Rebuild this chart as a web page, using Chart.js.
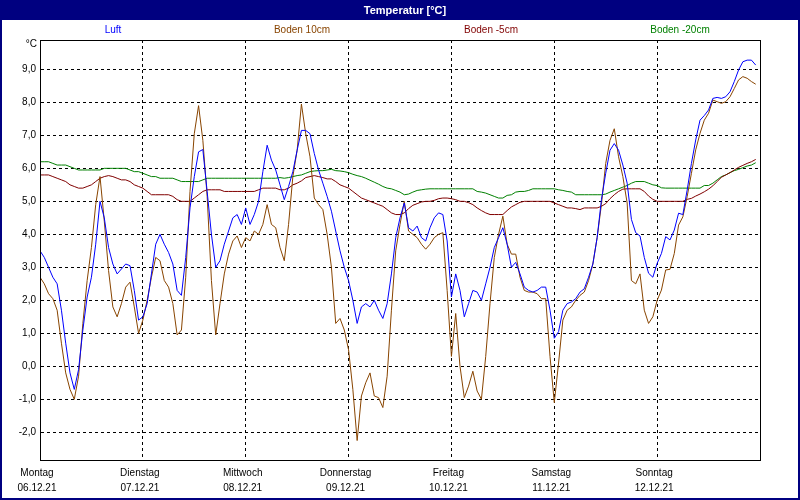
<!DOCTYPE html>
<html>
<head>
<meta charset="utf-8">
<script src="https://cdn.jsdelivr.net/npm/chart.js@4"></script>
<style>
  html, body { margin: 0; padding: 0; background: #fff; }
  #wrap { width: 800px; height: 500px; }
</style>
</head>
<body>
<div id="wrap"><canvas id="temperatur"></canvas></div>
<script>
const chartTitle = 'Temperatur [°C]'
const seriesNames = ['Luft', 'Boden 10cm', 'Boden -5cm', 'Boden -20cm']
const seriesColors = ['#0000ff', '#884400', '#800000', '#008000']
const dayNames = ['Montag', 'Dienstag', 'Mittwoch', 'Donnerstag', 'Freitag', 'Samstag', 'Sonntag']
const dayDates = ['06.12.21', '07.12.21', '08.12.21', '09.12.21', '10.12.21', '11.12.21', '12.12.21']
const dayTicks = [0, 24, 48, 72, 96, 120, 144]   // hours since Monday 0:00
const yTicks = [-2, -1, 0, 1, 2, 3, 4, 5, 6, 7, 8, 9]

// hourly readings, Monday 0:00 .. Sunday 23:00
const luft = [
  3.5, 3.3, 3.0, 2.7, 2.5, 1.7, 0.7, -0.2, -0.7, -0.1, 1.1, 2.1, 2.7, 3.7, 5.0, 4.5, 3.6, 3.1, 2.8, 2.95, 3.1, 3.05, 2.3, 1.4,
  1.5, 1.9, 2.8, 3.7, 4.0, 3.7, 3.45, 3.1, 2.3, 2.15, 3.3, 4.8, 5.75, 6.5, 6.57, 5.3, 4.0, 3.0, 3.2, 3.7, 4.1, 4.5, 4.6, 4.3,
  4.8, 4.3, 4.6, 5.0, 5.9, 6.7, 6.25, 5.95, 5.5, 5.05, 5.45, 5.9, 6.55, 7.15, 7.15, 7.05, 6.45, 5.95, 5.55, 5.15, 4.7, 4.1, 3.5, 3.0,
  2.6, 2.0, 1.3, 1.8, 1.9, 1.8, 2.0, 1.7, 1.45, 1.9, 2.8, 3.9, 4.5, 4.95, 4.2, 4.1, 4.25, 3.9, 3.8, 4.2, 4.5, 4.65, 4.6, 3.8,
  2.1, 2.8, 2.3, 1.5, 1.9, 2.3, 2.25, 2.0, 2.5, 3.0, 3.6, 3.9, 4.2, 3.7, 3.0, 3.15, 2.8, 2.4, 2.3, 2.25, 2.3, 2.4, 2.4, 1.7,
  0.85, 1.05, 1.7, 1.9, 1.95, 2.05, 2.25, 2.35, 2.7, 3.1, 3.9, 5.05, 5.85, 6.55, 6.75, 6.55, 6.1, 5.55, 4.45, 4.05, 3.95, 3.3, 2.82, 2.7,
  3.12, 3.42, 3.93, 3.83, 4.13, 4.64, 4.6, 5.34, 6.15, 6.86, 7.46, 7.6, 7.77, 8.12, 8.15, 8.12, 8.17, 8.32, 8.63, 8.98, 9.23, 9.28, 9.28, 9.13
]
const boden10 = [
  2.7, 2.5, 2.2, 2.05, 1.7, 0.7, -0.2, -0.7, -1.0, -0.3, 1.3, 2.6, 3.6, 4.9, 5.75, 4.4, 2.9, 1.8, 1.5, 1.9, 2.4, 2.55, 1.8, 1.0,
  1.4, 2.0, 2.7, 3.3, 3.2, 2.6, 2.4, 1.9, 0.95, 1.1, 2.7, 5.3, 7.05, 7.9, 6.85, 5.15, 2.6, 0.95, 1.9, 2.8, 3.4, 3.8, 3.95, 3.6,
  3.9, 3.8, 4.1, 4.0, 4.3, 4.9, 4.3, 4.2, 3.6, 3.2, 4.3, 5.75, 6.55, 7.95, 7.05, 6.35, 5.1, 4.9, 4.75, 4.0, 3.0, 1.3, 1.45, 1.1,
  0.5, -0.7, -2.25, -0.9, -0.5, -0.2, -0.9, -0.95, -1.25, -0.3, 1.7, 3.5, 4.3, 5.0, 4.1, 4.0, 3.9, 3.7, 3.55, 3.7, 3.9, 4.0, 4.05, 2.3,
  0.3, 1.6, 0.0, -0.95, -0.6, -0.15, -0.75, -1.0, 0.3, 1.9, 3.3, 4.0, 4.55, 3.7, 3.4, 3.4, 2.7, 2.3, 2.25, 2.25, 2.2, 2.05, 2.05, 0.3,
  -1.1, 0.1, 1.4, 1.7, 1.8, 2.0, 2.15, 2.25, 2.6, 3.1, 3.9, 4.9, 6.15, 6.85, 7.2, 6.35, 5.75, 4.95, 2.6, 2.5, 2.8, 1.7, 1.3, 1.5,
  2.0, 2.31, 2.92, 2.94, 3.42, 4.28, 4.53, 5.14, 5.85, 6.56, 7.06, 7.46, 7.67, 8.07, 8.02, 7.97, 8.02, 8.17, 8.42, 8.68, 8.78, 8.73, 8.63, 8.55
]
const boden5 = [
  5.8, 5.8, 5.8, 5.75, 5.7, 5.65, 5.6, 5.5, 5.45, 5.4, 5.4, 5.45, 5.5, 5.6, 5.7, 5.75, 5.78, 5.75, 5.7, 5.65, 5.65, 5.6, 5.5, 5.45,
  5.4, 5.3, 5.2, 5.2, 5.2, 5.2, 5.2, 5.15, 5.05, 5.0, 5.0, 5.0, 5.1, 5.2, 5.3, 5.35, 5.35, 5.35, 5.35, 5.3, 5.3, 5.3, 5.3, 5.3,
  5.3, 5.3, 5.3, 5.35, 5.4, 5.4, 5.4, 5.4, 5.35, 5.35, 5.4, 5.5, 5.55, 5.62, 5.72, 5.75, 5.78, 5.75, 5.72, 5.68, 5.68, 5.6, 5.5, 5.45,
  5.4, 5.3, 5.2, 5.1, 5.05, 5.0, 4.95, 4.9, 4.85, 4.75, 4.65, 4.6, 4.6, 4.65, 4.78, 4.88, 4.93, 4.98, 5.0, 5.0, 5.03, 5.08, 5.1, 5.1,
  5.08, 5.05, 5.0, 5.0, 4.96, 4.9, 4.8, 4.72, 4.65, 4.6, 4.6, 4.6, 4.6, 4.72, 4.83, 4.9, 4.97, 5.0, 5.0, 5.0, 5.0, 5.0, 5.0, 5.0,
  4.95, 4.9, 4.85, 4.8, 4.8, 4.78, 4.75, 4.8, 4.8, 4.8, 4.8, 4.85, 4.93, 5.08, 5.2, 5.3, 5.37, 5.38, 5.38, 5.38, 5.38, 5.3, 5.16, 5.06,
  5.0, 5.0, 5.0, 5.0, 5.0, 5.0, 5.0, 5.06, 5.09, 5.16, 5.22, 5.29, 5.37, 5.47, 5.6, 5.73, 5.8, 5.87, 5.95, 6.03, 6.09, 6.15, 6.2, 6.27
]
const boden20 = [
  6.2, 6.2, 6.2, 6.15, 6.1, 6.1, 6.1, 6.05, 6.0, 5.95, 5.95, 5.95, 5.95, 5.95, 5.95, 6.0, 6.0, 6.0, 6.0, 6.0, 6.0, 5.95, 5.9, 5.9,
  5.85, 5.8, 5.75, 5.75, 5.7, 5.7, 5.7, 5.7, 5.65, 5.6, 5.6, 5.6, 5.6, 5.6, 5.65, 5.7, 5.7, 5.7, 5.7, 5.7, 5.7, 5.7, 5.7, 5.7,
  5.7, 5.7, 5.7, 5.7, 5.7, 5.7, 5.7, 5.7, 5.72, 5.7, 5.72, 5.75, 5.78, 5.8, 5.85, 5.9, 5.92, 5.93, 5.93, 5.95, 5.97, 5.93, 5.92, 5.9,
  5.87, 5.82, 5.78, 5.75, 5.7, 5.64, 5.58, 5.52, 5.45, 5.4, 5.38, 5.33, 5.28, 5.2, 5.22, 5.28, 5.33, 5.35, 5.37, 5.38, 5.38, 5.38, 5.38, 5.38,
  5.38, 5.38, 5.38, 5.38, 5.38, 5.38, 5.3, 5.28, 5.25, 5.2, 5.15, 5.1, 5.1, 5.18, 5.2, 5.28, 5.3, 5.3, 5.33, 5.38, 5.38, 5.38, 5.38, 5.38,
  5.38, 5.35, 5.33, 5.3, 5.28, 5.2, 5.2, 5.2, 5.2, 5.2, 5.2, 5.2, 5.22, 5.28, 5.33, 5.38, 5.43, 5.48, 5.55, 5.6, 5.6, 5.6, 5.55, 5.5,
  5.48, 5.41, 5.4, 5.4, 5.4, 5.4, 5.4, 5.4, 5.4, 5.4, 5.4, 5.48, 5.48, 5.55, 5.65, 5.75, 5.8, 5.87, 5.93, 5.97, 6.02, 6.07, 6.1, 6.17
]
const hours = luft.map((v, i) => i)

const fontName = '"Liberation Sans", Arial, sans-serif'
const navy = '#000080'

// title bar, window border, plot frame, coloured series names and unit
const decorations = {
  id: 'decorations',
  beforeDraw(chart) {
    const ctx = chart.ctx
    ctx.save()
    ctx.fillStyle = '#fff'
    ctx.fillRect(0, 0, chart.width, chart.height)
    ctx.fillStyle = navy
    ctx.fillRect(0, 0, chart.width, 20)
    ctx.fillStyle = '#fff'
    ctx.font = 'bold 11px ' + fontName
    ctx.textAlign = 'center'
    ctx.textBaseline = 'middle'
    ctx.fillText(chartTitle, 405, 10.5)
    ctx.restore()
  },
  afterDraw(chart) {
    const ctx = chart.ctx
    const a = chart.chartArea
    ctx.save()
    ctx.strokeStyle = '#000'
    ctx.lineWidth = 1
    ctx.strokeRect(Math.round(a.left) + 0.5, Math.round(a.top) + 0.5, Math.round(a.right - a.left), Math.round(a.bottom - a.top))
    ctx.strokeStyle = navy
    ctx.lineWidth = 2
    ctx.strokeRect(1, 1, chart.width - 2, chart.height - 2)
    ctx.font = '10px ' + fontName
    ctx.textAlign = 'center'
    ctx.textBaseline = 'middle'
    chart.data.datasets.forEach((ds, i) => {
      ctx.fillStyle = ds.borderColor
      ctx.fillText(ds.label, 113 + i * 189, 30.5)
    })
    ctx.fillStyle = '#000'
    ctx.textAlign = 'right'
    ctx.fillText('°C', 37, 44)
    ctx.restore()
  }
}

const datasets = [luft, boden10, boden5, boden20].map((values, i) => ({
  label: seriesNames[i],
  data: values,
  borderColor: seriesColors[i],
  borderWidth: 1,
  pointRadius: 0,
  tension: 0,
  fill: false
}))

new Chart(document.getElementById('temperatur'), {
  type: 'line',
  data: { labels: hours, datasets: datasets },
  options: {
    responsive: true,
    maintainAspectRatio: false,
    animation: false,
    devicePixelRatio: 1,
    layout: { padding: { top: 40, right: 40, left: 0, bottom: 0 } },
    plugins: { legend: { display: false }, title: { display: false }, tooltip: { enabled: false } },
    scales: {
      x: {
        type: 'linear',
        min: 0,
        max: 168,
        afterFit: (s) => { s.height = 40 },
        afterBuildTicks: (s) => { s.ticks = dayTicks.map(v => ({ value: v })) },
        grid: { color: '#000', lineWidth: 1, drawTicks: false },
        border: { color: '#000', width: 1, dash: [3, 3] },
        ticks: {
          color: '#000',
          padding: 6,
          labelOffset: -3,
          maxRotation: 0,
          autoSkip: false,
          font: { family: fontName, size: 10, lineHeight: 1.5 },
          callback: (v, i) => [dayNames[i], dayDates[i]]
        }
      },
      y: {
        min: -2.84,
        max: 9.89,
        afterFit: (s) => { s.width = 40 },
        afterBuildTicks: (s) => { s.ticks = yTicks.map(v => ({ value: v })) },
        grid: { color: '#000', lineWidth: 1, drawTicks: false },
        border: { color: '#000', width: 1, dash: [3, 3] },
        ticks: {
          color: '#000',
          padding: 4,
          font: { family: fontName, size: 10 },
          callback: (v) => v.toFixed(1).replace('.', ',')
        }
      }
    }
  },
  plugins: [decorations]
})
</script>
</body>
</html>
